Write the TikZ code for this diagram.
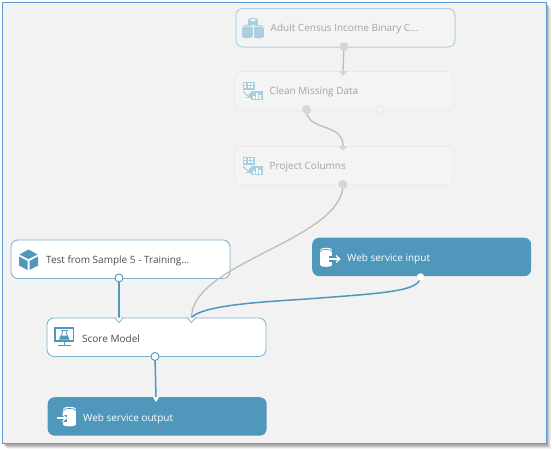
\documentclass[tikz,border=0pt]{standalone}
\usepackage{fontspec}
\setmainfont{Open Sans}
\definecolor{frameblue}{HTML}{5B9BD5}
\definecolor{canvas}{HTML}{F2F2F2}
\definecolor{teal}{HTML}{4F98BC}
\definecolor{tealline}{HTML}{7DB4D0}
\definecolor{fadeline}{HTML}{E9E9E9}
\definecolor{fadefill}{HTML}{F4F4F4}
\definecolor{fadeicon}{HTML}{A9CFE1}
\definecolor{fadetext}{HTML}{A3A3A3}
\definecolor{portgrey}{HTML}{D6D6D6}
\definecolor{wiregrey}{HTML}{BDBDBD}
\definecolor{wireblue}{HTML}{4F98BC}
\tikzset{
  x=1pt,y=-1pt,
  module/.style={rounded corners=7pt,minimum width=219pt,minimum height=38.5pt,inner sep=0pt,anchor=north west},
  whitebox/.style={module,draw=tealline,line width=0.9pt,fill=white},
  fadebox/.style={module,draw=fadeline,line width=0.8pt,fill=fadefill},
  selbox/.style={module,draw=teal!45,line width=1pt,fill=fadefill},
  tealbox/.style={module,fill=teal},
  lab/.style={font=\fontsize{10}{12}\selectfont,anchor=west,inner sep=0pt},
  portw/.style={circle,draw=wireblue,fill=white,line width=0.9pt,minimum size=8pt,inner sep=0pt},
  portg/.style={circle,fill=portgrey,minimum size=9pt,inner sep=0pt},
  porth/.style={circle,draw=fadeline,fill=fadefill,line width=0.8pt,minimum size=8pt,inner sep=0pt},
  wireg/.style={draw=wiregrey,line width=1.3pt},
  wireb/.style={draw=wireblue,line width=1.5pt},
}
\newcommand{\indiamond}[2]{%
  \fill[portgrey] (#1-4.5,#2)--(#1,#2+5)--(#1+4.5,#2)--cycle;}
\newcommand{\inhollow}[2]{%
  \fill[white] (#1-4.5,#2)--(#1,#2+5)--(#1+4.5,#2)--cycle;
  \draw[tealline,line width=0.8pt] (#1-4.5,#2)--(#1,#2+5)--(#1+4.5,#2);}
\newcommand{\gridicon}[3]{% x,y,colour : table-to-chart icon
  \fill[#3] (#1,#2) rectangle (#1+12,#2+8);
  \foreach \i in {0,1,2}\foreach \j in {0,1}{\fill[white] (#1+1.2+\i*3.4,#2+1.2+\j*3.2) rectangle +(2.2,2);}
  \fill[#3] (#1+8,#2+9) rectangle (#1+20,#2+18);
  \fill[white] (#1+10.3,#2+16.8) rectangle +(1.7,-3);
  \fill[white] (#1+13.2,#2+16.8) rectangle +(1.7,-6);
  \fill[white] (#1+16.1,#2+16.8) rectangle +(1.7,-4.2);
  \draw[#3,line width=1.1pt] (#1,#2+9.5)--(#1+7,#2+15.5);
  \draw[#3,line width=1.1pt] (#1+2.5,#2+15.5)--(#1+7,#2+15.5)--(#1+7,#2+11);
}
\newcommand{\drum}[5]{% cx,top,halfwidth,height,colour
  \fill[#5] (#1-#3,#2) rectangle (#1+#3,#2+#4);
  \fill[#5] (#1,#2+#4) ellipse[x radius=#3,y radius=1.8];
  \fill[#5] (#1,#2) ellipse[x radius=#3,y radius=2.2];
}
\begin{document}
\begin{tikzpicture}
\useasboundingbox (0,0) rectangle (552,450);
\fill[white] (0,0) rectangle (552,450);
\foreach \d/\o in {5/0.06,4/0.08,3/0.10,2/0.14}{
  \fill[black,opacity=\o] (2+\d,2+\d) rectangle (546+\d,444+\d);}
\fill[canvas,draw=frameblue,line width=1.2pt] (2.5,2.5) rectangle (546.3,443.3);

% modules
\node[selbox] (adult) at (235.5,8) {};
\node[fadebox] (clean) at (234.5,71) {};
\node[fadebox] (project) at (234.5,146) {};
\node[whitebox] (test) at (10.5,239.5) {};
\node[whitebox] (score) at (46.5,317.5) {};
\node[tealbox] (output) at (47.5,397) {};
\node[tealbox] (input) at (312,237.5) {};

% labels
\node[lab,text=fadetext] (t1) at (270.5,29.3) {Adult Census Income Binary C...};
\node[lab,text=fadetext] (t2) at (269.5,92.3) {Clean Missing Data};
\node[lab,text=fadetext] (t3) at (269.5,167.3) {Project Columns};
\node[lab,text=black!70] (t4) at (46,260.8) {Test from Sample 5 - Training...};
\node[lab,text=black!70] (t5) at (82,338.8) {Score Model};
\node[lab,text=white] (t6) at (83,418.8) {Web service output};
\node[lab,text=white] (t7) at (347,259.3) {Web service input};

% ports
\coordinate (adultout) at (344,46.5);
\coordinate (cleanin) at (343,71);
\coordinate (cleanout) at (306.5,109.5);
\coordinate (projin) at (343,146);
\coordinate (projout) at (343,184.5);
\coordinate (testout) at (119,278);
\coordinate (scorein) at (119,317.5);
\coordinate (scorein2) at (191.5,317.5);
\coordinate (scoreout) at (155,356.5);
\coordinate (outin) at (156,397);
\coordinate (inputout) at (420.5,277);
\coordinate (inputvia) at (320,298);

% connectors
\draw[wireg] (adultout) -- (cleanin);
\draw[wireg] (cleanout) .. controls (306.5,132) and (343,122) .. (projin);
\draw[wireg] (projout) .. controls (343,240) and (192,262) .. (scorein2);
\draw[wireb] (testout) -- (scorein);
\draw[wireb] (inputout) .. controls (420,291) and (385,293) .. (inputvia) .. controls (285,301) and (205,303) .. (scorein2);
\draw[wireb] (scoreout) -- (outin);

% input markers
\indiamond{343}{71}
\indiamond{343}{146}
\inhollow{119}{317.5}
\inhollow{191.5}{317.5}
\fill[white] (153,397)--(156,402)--(159,397)--cycle;

% output ports
\node[portg] (p1) at (adultout) {};
\node[portg] (p2) at (cleanout) {};
\node[porth] (p3) at (380,109.5) {};
\node[portg] (p4) at (projout) {};
\node[portw] (p5) at (testout) {};
\node[portw] (p6) at (scoreout) {};
\node[circle,fill=white,minimum size=7.5pt,inner sep=0pt] (p7) at (inputout) {};

% icon: dataset cylinders
\drum{253}{20}{5}{6}{fadeicon}
\fill[fadefill] (253,20) ellipse[x radius=3,y radius=1];
\fill[fadefill] (241,25) rectangle (265,27);
\drum{247.5}{27}{5.2}{9.5}{fadeicon}
\drum{258.5}{27}{5.2}{9.5}{fadeicon}
\draw[fadefill,line width=0.6pt] (253,25)--(253,38);
\draw[fadefill,line width=0.5pt] (242.5,28) arc[x radius=5,y radius=1.6,start angle=180,end angle=360];
\draw[fadefill,line width=0.5pt] (253.5,28) arc[x radius=5,y radius=1.6,start angle=180,end angle=360];
\gridicon{243}{82}{fadeicon}
\gridicon{243}{157}{fadeicon}

% icon: cube
\fill[teal] (28.5,249.5)--(37.5,254.5)--(28.5,259)--(19.5,254.5)--cycle;
\fill[teal] (19,256.5)--(27.5,261)--(27.5,270)--(19,265.5)--cycle;
\fill[teal] (38,256.5)--(29.5,261)--(29.5,270)--(38,265.5)--cycle;

% icon: score monitor
\draw[teal,line width=1.3pt] (55,328) rectangle (73.5,341);
\draw[teal,line width=1.3pt] (64.2,341) -- (64.2,345.5) (58,345.7) -- (70.5,345.7);
\draw[teal,line width=0.8pt] (61,330) -- (67.5,330);
\draw[teal,line width=0.8pt,line join=round] (62.3,330) -- (62.3,333) -- (59.5,339.2) -- (69,339.2) -- (66.2,333) -- (66.2,330);
\fill[teal] (61.5,335.5) -- (67,335.5) -- (69,339.2) -- (59.5,339.2) -- cycle;

% icon: web service input (cylinder + arrow)
\drum{326.2}{250}{6}{15}{white}
\draw[teal,line width=0.7pt] (320.2,251.5) arc[x radius=6,y radius=2,start angle=180,end angle=360];
\fill[teal] (329,256) rectangle (334,262);
\draw[white,line width=1.2pt] (329,259) -- (340,259);
\draw[white,line width=1.2pt] (336,255.5) -- (339.8,259) -- (336,262.5);

% icon: web service output (arrow + cylinder)
\drum{69.5}{409}{6.5}{15.5}{white}
\draw[teal,line width=0.7pt] (63,410.5) arc[x radius=6.5,y radius=2,start angle=180,end angle=360];
\fill[teal] (61,414.5) rectangle (67,421.5);
\draw[white,line width=1.2pt] (57,418) -- (66,418);
\draw[white,line width=1.2pt] (62.5,414.5) -- (66.2,418) -- (62.5,421.5);
\end{tikzpicture}
\end{document}
